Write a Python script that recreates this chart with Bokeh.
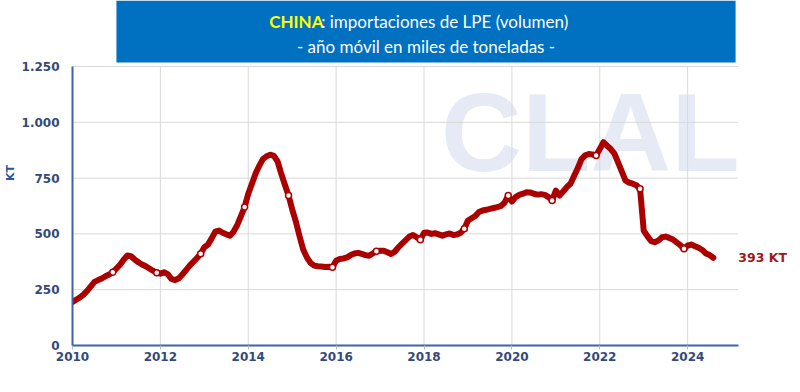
from bokeh.plotting import figure
from bokeh.models import Range1d, FixedTicker, Label, BoxAnnotation, ColumnDataSource
from bokeh.embed import file_html
from bokeh.resources import INLINE

# Rolling-year LPE imports of China, thousand tonnes (KT), monthly Jan 2010 - Aug 2024
kt_2010 = [195, 205, 215, 228, 245, 265, 285, 293, 300, 310, 318, 328]
kt_2011 = [345, 362, 385, 403, 400, 385, 373, 363, 355, 345, 335, 326]
kt_2012 = [322, 328, 320, 298, 293, 300, 318, 338, 358, 375, 392, 411]
kt_2013 = [440, 452, 480, 510, 515, 505, 498, 492, 510, 540, 580, 620]
kt_2014 = [680, 725, 770, 805, 835, 848, 855, 850, 825, 770, 720, 672]
kt_2015 = [610, 555, 490, 430, 395, 370, 358, 355, 354, 352, 353, 351]
kt_2016 = [380, 388, 390, 395, 405, 412, 415, 410, 405, 402, 412, 422]
kt_2017 = [425, 425, 418, 410, 420, 440, 456, 472, 488, 495, 485, 474]
kt_2018 = [505, 506, 500, 503, 498, 492, 498, 502, 495, 497, 505, 523]
kt_2019 = [560, 570, 580, 598, 605, 608, 612, 616, 620, 625, 640, 672]
kt_2020 = [645, 665, 675, 680, 687, 686, 680, 676, 678, 675, 665, 650]
kt_2021 = [694, 672, 690, 710, 725, 760, 795, 835, 852, 858, 856, 851]
kt_2022 = [880, 911, 895, 880, 860, 820, 780, 740, 730, 725, 718, 702]
kt_2023 = [515, 490, 468, 463, 470, 485, 488, 482, 475, 462, 450, 433]
kt_2024 = [448, 452, 445, 438, 428, 412, 405, 393]

years = list(range(2010, 2025))
series = [kt_2010, kt_2011, kt_2012, kt_2013, kt_2014, kt_2015, kt_2016, kt_2017,
          kt_2018, kt_2019, kt_2020, kt_2021, kt_2022, kt_2023, kt_2024]

x_ticks = [2010, 2012, 2014, 2016, 2018, 2020, 2022, 2024]
y_ticks = [0, 250, 500, 750, 1000, 1250]
y_labels = ["0", "250", "500", "750", "1.000", "1.250"]
x_axis_end = 2025.15

xs, ys = [], []
for yr, vals in zip(years, series):
    for m, v in enumerate(vals):
        xs.append(yr + m / 12)
        ys.append(v)

dec_x = [yr + 11 / 12 for yr, vals in zip(years, series) if len(vals) == 12]
dec_y = [vals[11] for vals in series if len(vals) == 12]

# ---- layout (pixels) ----
W, H = 800, 392
FRAME_LEFT = 71          # x of 2010
FRAME_BOTTOM = 345       # y of 0 KT
PX_PER_YEAR = 44.0
PX_PER_KT = 279.0 / 1250

x0 = x_ticks[0]
x_max = x0 + (W - FRAME_LEFT) / PX_PER_YEAR
y_max = FRAME_BOTTOM / PX_PER_KT


def dx(px):   # page x pixel -> data x (decoration placement only)
    return x0 + (px - FRAME_LEFT) / PX_PER_YEAR


def dy(py):   # page y pixel -> data y (decoration placement only)
    return (FRAME_BOTTOM - py) / PX_PER_KT


RED = "#AA0000"
AXIS_BLUE = "#3F62A8"
LABEL_BLUE = "#34497A"
GRID = "#D9D9D9"

p = figure(width=W, height=H, output_backend="svg", toolbar_location=None,
           x_range=Range1d(x0, x_max), y_range=Range1d(0, y_max),
           min_border_left=FRAME_LEFT, min_border_right=0, min_border_top=0,
           min_border_bottom=H - FRAME_BOTTOM)
p.outline_line_color = None
p.background_fill_color = "white"
p.xgrid.visible = False
p.ygrid.visible = False

# watermark logo
p.add_layout(Label(x=dx(440), y=dy(132), text="CLAL", text_font="Liberation Sans",
                   text_font_style="bold", text_font_size="112px", text_color="#E6EAF5",
                   text_baseline="alphabetic", level="image"))

# grid lines (bounded to the axes)
vx = [t for t in x_ticks if t != x0]
p.segment(x0=vx, y0=[y_ticks[0]] * len(vx), x1=vx, y1=[y_ticks[-1]] * len(vx),
          line_color=GRID, line_width=1, level="underlay")
hy = [t for t in y_ticks if t != 0]
p.segment(x0=[x0] * len(hy), y0=hy, x1=[x_axis_end] * len(hy), y1=hy,
          line_color=GRID, line_width=1, level="underlay")

# axes
p.xaxis.ticker = FixedTicker(ticks=x_ticks)
p.yaxis.ticker = FixedTicker(ticks=y_ticks)
p.xaxis.bounds = (x0, x_axis_end)
p.yaxis.bounds = (y_ticks[0], y_ticks[-1])
p.yaxis.major_label_overrides = {t: l for t, l in zip(y_ticks, y_labels)}
p.xaxis.major_label_overrides = {t: str(t) for t in x_ticks}
for ax in (p.xaxis, p.yaxis):
    ax.axis_line_color = AXIS_BLUE
    ax.axis_line_width = 2
    ax.major_label_text_font = "DejaVu Sans"
    ax.major_label_text_font_style = "bold"
    ax.major_label_text_font_size = "12px"
    ax.major_label_text_color = LABEL_BLUE
    ax.minor_tick_line_color = None
p.xaxis.major_tick_line_color = "#BBBBBB"
p.xaxis.major_tick_in = 0
p.xaxis.major_tick_out = 4
p.xaxis.major_label_standoff = 2
p.yaxis.major_tick_line_color = None
p.yaxis.major_label_standoff = 7
p.yaxis.axis_label = "KT"
p.yaxis.axis_label_text_font = "DejaVu Sans"
p.yaxis.axis_label_text_font_style = "bold"
p.yaxis.axis_label_text_font_size = "11px"
p.yaxis.axis_label_text_color = "#2F5597"
p.yaxis.axis_label_standoff = 2

src = ColumnDataSource(dict(x=xs, y=ys))
p.line("x", "y", source=src, line_color=RED, line_width=6, line_join="round", line_cap="round")
p.scatter(dec_x, dec_y, size=6, fill_color="white", line_color=RED, line_width=1.5)

p.add_layout(Label(x=xs[-1], y=ys[-1], x_offset=25, text=f"{ys[-1]} KT",
                   text_font="DejaVu Sans", text_font_style="bold", text_font_size="12.5px",
                   text_color="#9C1A1A", text_baseline="middle"))

# title box
p.add_layout(BoxAnnotation(left=dx(115), right=dx(735), top=y_max, bottom=dy(62),
                           fill_color="#0070C0", fill_alpha=1, line_color=None))
p.add_layout(Label(x=dx(268), y=dy(21), text="CHINA",
                   text_font="Lato", text_font_style="bold", text_font_size="17px",
                   text_color="#FFFF00", text_baseline="middle", text_align="left", level="overlay"))
p.add_layout(Label(x=dx(320), y=dy(21), text=": importaciones de LPE (volumen)",
                   text_font="Lato", text_font_size="17px",
                   text_color="white", text_baseline="middle", text_align="left", level="overlay"))
p.add_layout(Label(x=dx(425), y=dy(46), text="- año móvil en miles de toneladas -",
                   text_font="Lato", text_font_size="17px",
                   text_color="white", text_baseline="middle", text_align="center", level="overlay"))

open("out.html", "w").write(file_html(p, INLINE))
